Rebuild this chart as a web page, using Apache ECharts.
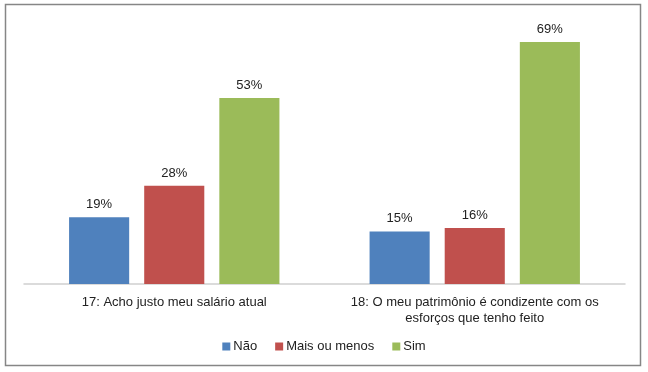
<!DOCTYPE html>
<html>
<head>
<meta charset="utf-8">
<script src="https://cdn.jsdelivr.net/npm/echarts@6/dist/echarts.min.js"></script>
<style>html,body{margin:0;padding:0;background:#fff}#c{width:648px;height:372px}</style>
</head>
<body>
<div id="c"></div>
<script>
const categories = ["17: Acho justo meu salário atual", "18: O meu patrimônio é condizente com os\nesforços que tenho feito"];
const seriesNames = ["Não", "Mais ou menos", "Sim"];
const naoValues = [19, 15];
const maisValues = [28, 16];
const simValues = [53, 69];
const colors = ["#4f81bd", "#c0504d", "#9bbb59"];

const chart = echarts.init(document.getElementById('c'), null, {renderer: 'canvas'});
const font = "'Liberation Sans', Arial, sans-serif";
const mk = (name, data, color) => ({
  name, type: 'bar', data,
  barGap: '25%', barCategoryGap: '30%',
  itemStyle: {color},
  label: {show: true, position: 'top', distance: 6, formatter: '{c}%', color: '#222', fontSize: 13, fontFamily: font}
});
chart.setOption({
  animation: false,
  graphic: [{type: 'rect', shape: {x: 5.5, y: 4.5, width: 635, height: 361}, style: {fill: 'none', stroke: '#868686', lineWidth: 1.5}, z: 100}],
  grid: {left: 24, right: 23, top: 3.4, bottom: 88, containLabel: false},
  legend: {
    bottom: 14, left: 'center', itemWidth: 8, itemHeight: 8, itemGap: 18,
    icon: 'rect', textStyle: {fontSize: 13, color: '#222', fontFamily: font, padding: [0,0,0,-2]},
    data: seriesNames
  },
  xAxis: {
    type: 'category', data: categories,
    axisLine: {lineStyle: {color: '#cfcfcf', width: 1.5}},
    axisTick: {show: false},
    axisLabel: {color: '#222', fontSize: 13, fontFamily: font, margin: 10, lineHeight: 16, interval: 0}
  },
  yAxis: {type: 'value', min: 0, max: 80, show: false, splitLine: {show: false}},
  series: [mk(seriesNames[0], naoValues, colors[0]), mk(seriesNames[1], maisValues, colors[1]), mk(seriesNames[2], simValues, colors[2])]
});
</script>
</body>
</html>
